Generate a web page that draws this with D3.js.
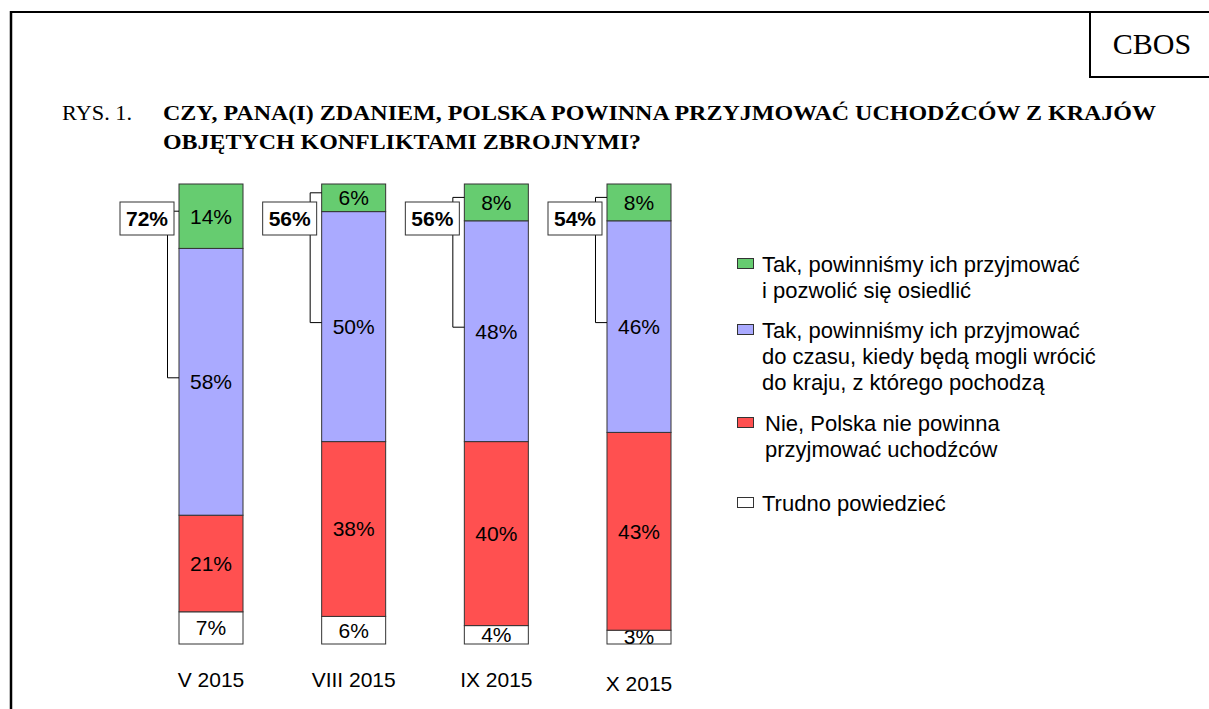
<!DOCTYPE html>
<html>
<head>
<meta charset="utf-8">
<script src="https://cdn.jsdelivr.net/npm/d3@7"></script>
<style>
  body { margin: 0; background: #fff; }
  svg { display: block; }
</style>
</head>
<body>
<svg id="chart" width="1209" height="709"></svg>
<script>
// survey waves
const categories = ["V 2015", "VIII 2015", "IX 2015", "X 2015"];
// answers, percent
const settleValues = [14, 6, 8, 8];      // tak, i pozwolić się osiedlić
const temporaryValues = [58, 50, 48, 46]; // tak, do czasu powrotu
const noValues = [21, 38, 40, 43];        // nie
const hardValues = [7, 6, 4, 3];          // trudno powiedzieć

const seriesKeys = ["hard", "no", "temporary", "settle"]; // bottom -> top
const seriesColors = { settle: "#66cc70", temporary: "#aaaaff", no: "#ff5050", hard: "#ffffff" };
const legendItems = [
    { key: "settle", lines: ["Tak, powinniśmy ich przyjmować", "i pozwolić się osiedlić"] },
    { key: "temporary", lines: ["Tak, powinniśmy ich przyjmować", "do czasu, kiedy będą mogli wrócić", "do kraju, z którego pochodzą"] },
    { key: "no", lines: ["Nie, Polska nie powinna", "przyjmować uchodźców"] },
    { key: "hard", lines: ["Trudno powiedzieć"] }
];

const rows = categories.map((c, i) => ({
    cat: c,
    settle: settleValues[i],
    temporary: temporaryValues[i],
    no: noValues[i],
    hard: hardValues[i]
}));

const svg = d3.select("#chart");
const sans = "Arial, 'Liberation Sans', sans-serif";
const serif = "'Times New Roman', 'Liberation Serif', serif";
const labelSize = 21;

// frame
svg.append("line").attr("x1", 11).attr("y1", 12).attr("x2", 1209).attr("y2", 12)
    .attr("stroke", "#000").attr("stroke-width", 2);
svg.append("line").attr("x1", 11).attr("y1", 11).attr("x2", 11).attr("y2", 709)
    .attr("stroke", "#000").attr("stroke-width", 2.5);
svg.append("rect").attr("x", 1090).attr("y", 12).attr("width", 130).attr("height", 65)
    .attr("fill", "none").attr("stroke", "#000").attr("stroke-width", 2);
svg.append("text").attr("x", 1152).attr("y", 54).attr("text-anchor", "middle")
    .attr("font-family", serif).attr("font-size", 30).text("CBOS");

// title
svg.append("text").attr("x", 62).attr("y", 120)
    .attr("font-family", serif).attr("font-size", 22)
    .attr("textLength", 70).attr("lengthAdjust", "spacingAndGlyphs").text("RYS. 1.");
const titleLines = ["CZY, PANA(I) ZDANIEM, POLSKA POWINNA PRZYJMOWAĆ UCHODŹCÓW Z KRAJÓW",
    "OBJĘTYCH KONFLIKTAMI ZBROJNYMI?"];
const titleWidths = [993, 478];
titleLines.forEach((line, i) => {
    svg.append("text").attr("x", 163).attr("y", 120 + i * 29)
        .attr("font-family", serif).attr("font-weight", "bold").attr("font-size", 22)
        .attr("textLength", titleWidths[i]).attr("lengthAdjust", "spacingAndGlyphs")
        .text(line);
});

// scales
const x = d3.scaleBand().domain(categories).range([179, 671]).paddingInner(0.5514).paddingOuter(0);
const y = d3.scaleLinear().domain([0, 100]).range([644, 184]);

const stacked = d3.stack().keys(seriesKeys)(rows);

const layers = svg.append("g").selectAll("g")
    .data(stacked)
    .enter().append("g")
    .attr("fill", d => seriesColors[d.key]);

layers.selectAll("rect")
    .data(d => d)
    .enter().append("rect")
    .attr("x", d => x(d.data.cat))
    .attr("y", d => y(d[1]))
    .attr("width", x.bandwidth())
    .attr("height", d => y(d[0]) - y(d[1]))
    .attr("stroke", "#333")
    .attr("stroke-width", 1);

layers.selectAll("text")
    .data(d => d.map(p => ({ p: p, key: d.key })))
    .enter().append("text")
    .attr("x", d => x(d.p.data.cat) + x.bandwidth() / 2)
    .attr("y", d => (y(d.p[0]) + y(d.p[1])) / 2)
    .attr("dy", "0.35em")
    .attr("text-anchor", "middle")
    .attr("fill", "#000")
    .attr("font-family", sans)
    .attr("font-size", labelSize)
    .text(d => d.p.data[d.key] + "%");

// brackets with sum of "tak" answers
const brackets = svg.append("g");
rows.forEach(r => {
    const left = x(r.cat);
    const yTop = (y(100) + y(100 - r.settle)) / 2 - 5;
    const yBot = (y(100 - r.settle) + y(100 - r.settle - r.temporary)) / 2 - 4;
    const vx = left - 11.5;
    brackets.append("path")
        .attr("d", `M${left},${yTop}H${vx}V${yBot}H${left}`)
        .attr("fill", "none").attr("stroke", "#000").attr("stroke-width", 1);
    brackets.append("rect")
        .attr("x", left - 5 - 54).attr("y", 202).attr("width", 54).attr("height", 33)
        .attr("fill", "#fff").attr("stroke", "#333").attr("stroke-width", 1);
    brackets.append("text")
        .attr("x", left - 5 - 27).attr("y", 218.5).attr("dy", "0.35em")
        .attr("text-anchor", "middle")
        .attr("font-family", sans).attr("font-weight", "bold").attr("font-size", labelSize)
        .text((r.settle + r.temporary) + "%");
});

// category labels
svg.append("g").selectAll("text")
    .data(categories)
    .enter().append("text")
    .attr("x", d => x(d) + x.bandwidth() / 2)
    .attr("y", (d, i) => i === 3 ? 684 : 680)
    .attr("dy", "0.35em")
    .attr("text-anchor", "middle")
    .attr("font-family", sans)
    .attr("font-size", labelSize)
    .text(d => d);

// legend
const legendTops = [264, 330, 423, 503];
const legend = svg.append("g");
legendItems.forEach((item, i) => {
    const cy = legendTops[i];
    legend.append("rect")
        .attr("x", 737.5).attr("y", cy - 5.5).attr("width", 16).attr("height", 10)
        .attr("fill", seriesColors[item.key]).attr("stroke", "#333").attr("stroke-width", 1);
    item.lines.forEach((line, j) => {
        legend.append("text")
            .attr("x", item.key === "no" ? 765 : 762)
            .attr("y", cy + j * 26)
            .attr("dy", "0.35em")
            .attr("font-family", sans)
            .attr("font-size", 22)
            .text(line);
    });
});
</script>
</body>
</html>
